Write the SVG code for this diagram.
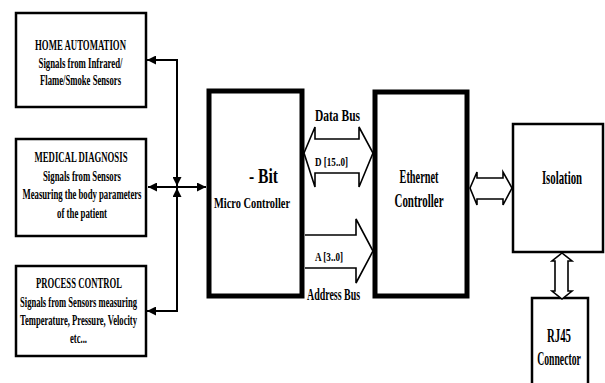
<svg xmlns="http://www.w3.org/2000/svg" width="605" height="383" viewBox="0 0 605 383">
<defs>
<style>
.box{fill:#fff;stroke:#000;stroke-width:2.5}
.thick{fill:#fff;stroke:#000;stroke-width:5}
.bus{fill:#fff;stroke:#000;stroke-width:1.6;stroke-linejoin:miter}
.ln{fill:none;stroke:#000;stroke-width:2}
text{font-family:'Liberation Serif','DejaVu Serif',serif;font-weight:bold;fill:#000;text-anchor:middle}
.s{font-size:14px}
.m{font-size:18px}
.b{font-size:16px}
</style>
<marker id="ah" viewBox="0 0 10 10" refX="10" refY="5" markerWidth="9" markerHeight="9" markerUnits="userSpaceOnUse" orient="auto-start-reverse">
<path d="M0,0 L10,5 L0,10 Z" fill="#000"/>
</marker>
</defs>
<rect width="605" height="383" fill="#fff"/>

<g id="home">
<rect class="box" x="16" y="13" width="130" height="94"/>
<text class="s" x="80.5" y="50" textLength="91" lengthAdjust="spacingAndGlyphs">HOME AUTOMATION</text>
<text class="s" x="80.5" y="68" textLength="84" lengthAdjust="spacingAndGlyphs">Signals from Infrared/</text>
<text class="s" x="80.5" y="85" textLength="81" lengthAdjust="spacingAndGlyphs">Flame/Smoke Sensors</text>
</g>

<g id="medical">
<rect class="box" x="16" y="139" width="130" height="97"/>
<text class="s" x="81" y="162" textLength="93" lengthAdjust="spacingAndGlyphs">MEDICAL DIAGNOSIS</text>
<text class="s" x="82" y="181" textLength="78" lengthAdjust="spacingAndGlyphs">Signals from Sensors</text>
<text class="s" x="82" y="199" textLength="119" lengthAdjust="spacingAndGlyphs">Measuring the body parameters</text>
<text class="s" x="82" y="218" textLength="50" lengthAdjust="spacingAndGlyphs">of the patient</text>
</g>

<g id="process">
<rect class="box" x="16" y="266" width="130" height="90"/>
<text class="s" x="79" y="288" textLength="86" lengthAdjust="spacingAndGlyphs">PROCESS CONTROL</text>
<text class="s" x="78.5" y="307" textLength="117" lengthAdjust="spacingAndGlyphs">Signals from Sensors measuring</text>
<text class="s" x="78.5" y="325" textLength="117" lengthAdjust="spacingAndGlyphs">Temperature, Pressure, Velocity</text>
<text class="s" x="78.5" y="343" textLength="17" lengthAdjust="spacingAndGlyphs">etc...</text>
</g>

<g id="mcu">
<rect class="thick" x="209" y="91" width="93" height="205"/>
<text x="263.5" y="183" font-size="20" textLength="29" lengthAdjust="spacingAndGlyphs">- Bit</text>
<text x="252" y="208" font-size="15" textLength="76" lengthAdjust="spacingAndGlyphs">Micro Controller</text>
</g>

<g id="ethernet">
<rect class="thick" x="375" y="92" width="92" height="204"/>
<text class="m" x="419" y="183" textLength="39" lengthAdjust="spacingAndGlyphs">Ethernet</text>
<text class="m" x="419" y="207" textLength="49" lengthAdjust="spacingAndGlyphs">Controller</text>
</g>

<g id="isolation">
<rect class="box" x="513" y="124" width="90" height="128"/>
<text class="m" transform="translate(562,184) scale(0.6,1)" x="0" y="0">Isolation</text>
</g>

<g id="rj45">
<rect class="box" x="532" y="298" width="56" height="100"/>
<text class="m" transform="translate(559,342) scale(0.6,1)" x="0" y="0">RJ45</text>
<text class="m" transform="translate(559,365) scale(0.54,1)" x="0" y="0">Connector</text>
</g>

<g id="connectors">
<polyline class="ln" points="177,186 177,60 147,60" marker-start="url(#ah)" marker-end="url(#ah)"/>
<line class="ln" x1="148" y1="187" x2="206" y2="187" marker-start="url(#ah)" marker-end="url(#ah)"/>
<polyline class="ln" points="177,188 177,311 147,311" marker-start="url(#ah)" marker-end="url(#ah)"/>
<polygon class="bus" points="304,153 315,127 315,139 359,139 359,127 373,153 359,187 359,173 315,173 315,187"/>
<polyline class="bus" points="305,235 356,235 356,219 373,251 356,283 356,268 305,268"/>
<polygon class="bus" points="470,188 477,172 477,178 503,178 503,172 512,188 503,205 503,199 477,199 477,205"/>
<polygon class="bus" points="562,253 572,261 568,261 568,291 572,291 562,299 552,291 555,291 555,261 552,261"/>
<text class="b" x="337.5" y="121" textLength="45" lengthAdjust="spacingAndGlyphs">Data Bus</text>
<text x="331.5" y="166" font-size="13" textLength="33" lengthAdjust="spacingAndGlyphs">D [15..0]</text>
<text x="329" y="261" font-size="13" textLength="28" lengthAdjust="spacingAndGlyphs">A [3..0]</text>
<text class="b" x="333.5" y="300" textLength="53" lengthAdjust="spacingAndGlyphs">Address Bus</text>
</g>
</svg>
